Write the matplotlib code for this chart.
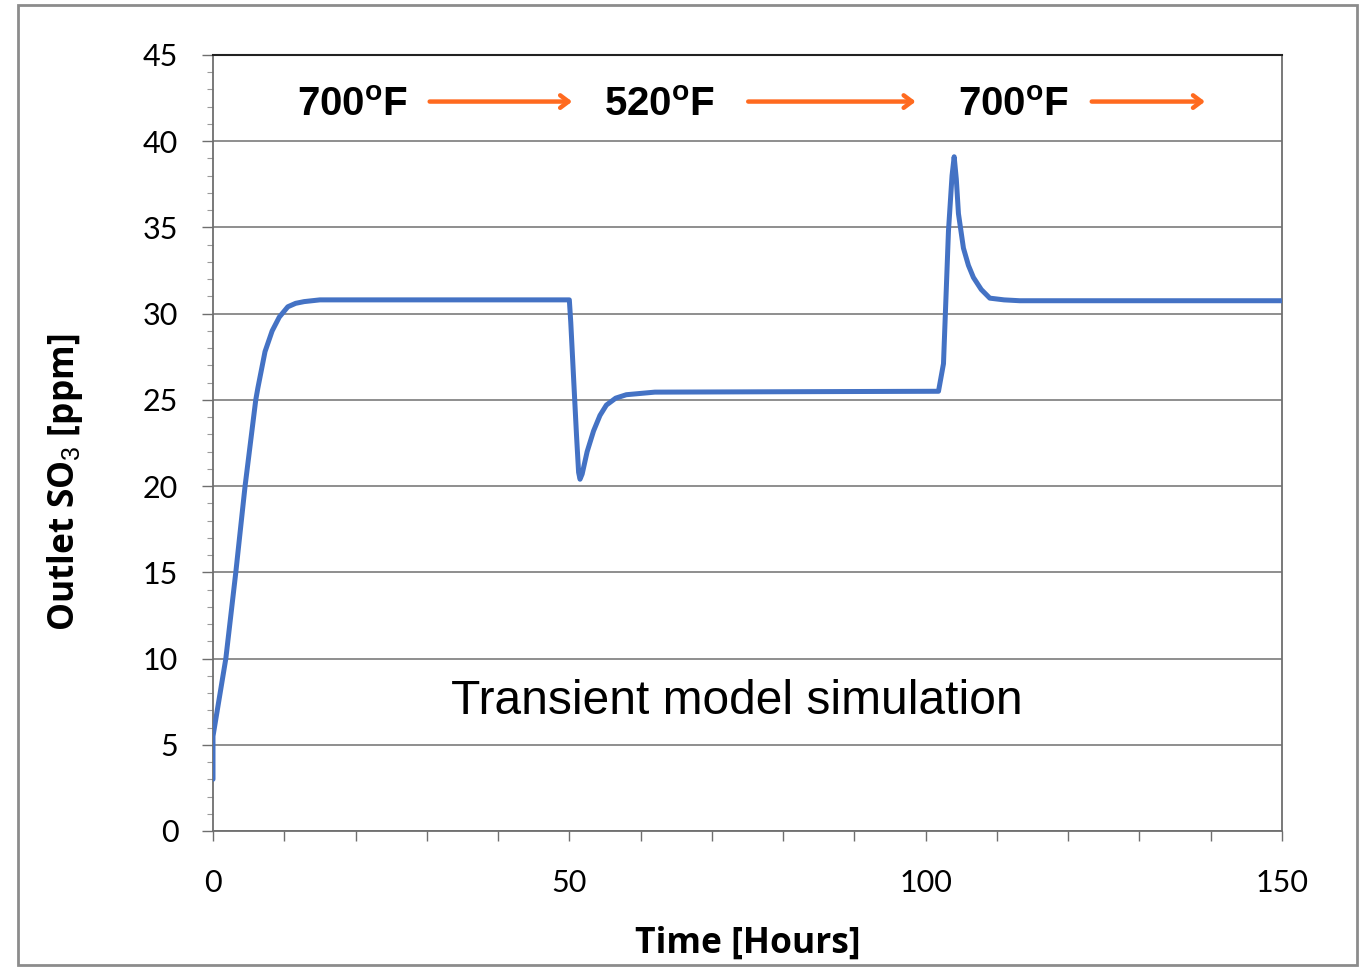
import matplotlib
matplotlib.use("Agg")
import matplotlib.pyplot as plt
from matplotlib.patches import Rectangle
from matplotlib.ticker import MultipleLocator, FuncFormatter

plt.rcParams['mathtext.fontset'] = 'custom'
plt.rcParams['mathtext.rm'] = 'Liberation Sans'
plt.rcParams['mathtext.bf'] = 'Liberation Sans:bold'

# simulated outlet SO3 (ppm) vs time (hours)
time = [0, 0, 0.4, 1.8, 3.2, 4.5, 6.0, 6.3, 7.3, 8.3, 9.3, 10.5, 11.6, 12.8, 15,
        50.0, 50.2, 51.0, 51.3, 51.5, 51.8, 52.5, 53.4, 54.3, 55.2, 56.5, 58, 62,
        101.8, 102.5, 103.2, 103.7, 104.0, 104.3, 104.6, 105.3, 106.0, 106.7,
        107.8, 109.0, 111, 113.2, 150]
so3 = [3.0, 5.5, 6.5, 10, 15, 20, 25, 25.7, 27.8, 29.0, 29.8, 30.4, 30.6, 30.7, 30.8,
       30.8, 29.5, 23.0, 20.8, 20.4, 20.7, 22.0, 23.2, 24.1, 24.7, 25.1, 25.3, 25.45,
       25.5, 27.1, 34.8, 38.0, 39.1, 37.8, 35.8, 33.8, 32.8, 32.1,
       31.4, 30.9, 30.8, 30.75, 30.75]

temp_labels = ['700$^{\\mathbf{o}}$F', '520$^{\\mathbf{o}}$F', '700$^{\\mathbf{o}}$F']
temp_x = [19.6, 62.7, 112.3]
arrow_start = [30.4, 75.1, 123.3]
arrow_end = [50.4, 98.6, 139.2]

fig = plt.figure(figsize=(13.63, 9.67), dpi=100)
fig.patches.append(Rectangle((18 / 1363, 0.002), 1339 / 1363, 1 - 7 / 967,
                             transform=fig.transFigure, fill=False,
                             edgecolor='#8c8c8c', lw=2))
ax = fig.add_axes([213 / 1363, 1 - 831 / 967, 1069 / 1363, 776 / 967])

ax.plot(time, so3, color='#4472C4', lw=3.6, solid_joinstyle='round',
        solid_capstyle='round', zorder=3)

ax.set_xlim(0, 150)
ax.set_ylim(0, 45)
ax.xaxis.set_major_locator(MultipleLocator(10))
ax.xaxis.set_major_formatter(FuncFormatter(lambda v, p: '%d' % v if v % 50 == 0 else ''))
ax.yaxis.set_major_locator(MultipleLocator(5))
ax.yaxis.set_minor_locator(MultipleLocator(1))
ax.grid(axis='y', color='#868686', lw=1.3)
ax.set_axisbelow(True)

for s in ['left', 'bottom', 'right']:
    ax.spines[s].set_color('#6e6e6e')
    ax.spines[s].set_linewidth(1.3)
ax.spines['top'].set_color('#222222')
ax.spines['top'].set_linewidth(1.5)

ax.tick_params(axis='x', length=7, width=1, color='#6e6e6e', pad=20,
               labelsize=22, labelfontfamily='Lato')
ax.tick_params(axis='y', which='major', length=8, width=1, color='#6e6e6e', pad=17,
               labelsize=22, labelfontfamily='Lato')
ax.tick_params(axis='y', which='minor', length=4, width=0.8, color='#9a9a9a')

ax.set_xlabel('Time [Hours]', fontsize=25.5, fontweight='bold', family='Open Sans')
ax.xaxis.set_label_coords(0.5, -0.122)
ax.set_ylabel('Outlet SO$_3$ [ppm]', fontsize=25.5, fontweight='bold', family='Open Sans')
ax.yaxis.set_label_coords(-0.12, 0.45)

for lab, x in zip(temp_labels, temp_x):
    ax.text(x, 42.1, lab, fontsize=29, fontweight='bold', family='Liberation Sans',
            ha='center', va='center')
for x0, x1 in zip(arrow_start, arrow_end):
    ax.annotate('', xy=(x1, 42.3), xytext=(x0, 42.3),
                arrowprops=dict(arrowstyle='->,head_length=0.6,head_width=0.45',
                                color='#FF6A1F', lw=3.2, shrinkA=0, shrinkB=0))

ax.text(73.5, 7.5, 'Transient model simulation', fontsize=34.5,
        family='Liberation Sans', ha='center', va='center')

fig.savefig('out.png', dpi=100)
